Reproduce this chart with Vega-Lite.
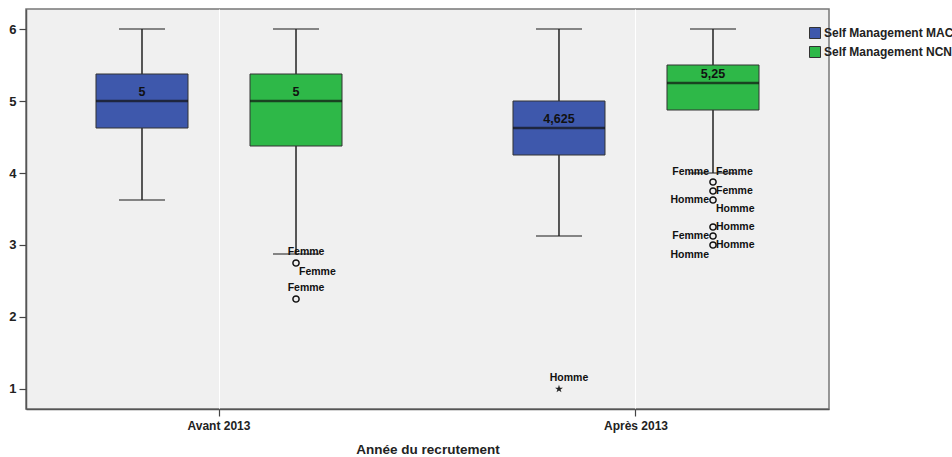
{
  "$schema": "https://vega.github.io/schema/vega-lite/v6.json",
  "width": 803,
  "height": 400,
  "autosize": {"type": "none"},
  "padding": {"left": 26, "top": 9, "right": 123, "bottom": 48},
  "background": "white",
  "config": {
    "view": {"stroke": "#777777", "strokeWidth": 1.5, "fill": "#F0F0F0"},
    "font": "Liberation Sans",
    "axis": {"labelFont": "Liberation Sans", "labelFontWeight": "bold", "labelColor": "#222222", "domainColor": "#555555", "domainWidth": 1.5, "tickColor": "#444444", "tickWidth": 1.2, "titleFont": "Liberation Sans", "titleFontWeight": "bold", "titleColor": "#222222"}
  },
  "datasets": {
    "boxes": [
      {"year": "Avant 2013", "group": "Self Management MAC", "lower": 3.625, "q1": 4.625, "median": 5, "q3": 5.375, "upper": 6, "medianLabel": "5"},
      {"year": "Avant 2013", "group": "Self Management NCN", "lower": 2.875, "q1": 4.375, "median": 5, "q3": 5.375, "upper": 6, "medianLabel": "5"},
      {"year": "Après 2013", "group": "Self Management MAC", "lower": 3.125, "q1": 4.25, "median": 4.625, "q3": 5, "upper": 6, "medianLabel": "4,625"},
      {"year": "Après 2013", "group": "Self Management NCN", "lower": 4, "q1": 4.875, "median": 5.25, "q3": 5.5, "upper": 6, "medianLabel": "5,25"}
    ],
    "outliers": [
      {"year": "Avant 2013", "group": "Self Management NCN", "value": 2.75, "kind": "outlier"},
      {"year": "Avant 2013", "group": "Self Management NCN", "value": 2.25, "kind": "outlier"},
      {"year": "Après 2013", "group": "Self Management MAC", "value": 1, "kind": "extreme"},
      {"year": "Après 2013", "group": "Self Management NCN", "value": 3.875, "kind": "outlier"},
      {"year": "Après 2013", "group": "Self Management NCN", "value": 3.75, "kind": "outlier"},
      {"year": "Après 2013", "group": "Self Management NCN", "value": 3.625, "kind": "outlier"},
      {"year": "Après 2013", "group": "Self Management NCN", "value": 3.25, "kind": "outlier"},
      {"year": "Après 2013", "group": "Self Management NCN", "value": 3.125, "kind": "outlier"},
      {"year": "Après 2013", "group": "Self Management NCN", "value": 3.0, "kind": "outlier"}
    ],
    "labels": [
      {"year": "Avant 2013", "group": "Self Management NCN", "value": 2.75, "label": "Femme", "pos": "above"},
      {"year": "Avant 2013", "group": "Self Management NCN", "value": 2.75, "label": "Femme", "pos": "rightbelow"},
      {"year": "Avant 2013", "group": "Self Management NCN", "value": 2.25, "label": "Femme", "pos": "above"},
      {"year": "Après 2013", "group": "Self Management MAC", "value": 1, "label": "Homme", "pos": "above"},
      {"year": "Après 2013", "group": "Self Management NCN", "value": 3.875, "label": "Femme", "pos": "leftabove"},
      {"year": "Après 2013", "group": "Self Management NCN", "value": 3.875, "label": "Femme", "pos": "rightabove"},
      {"year": "Après 2013", "group": "Self Management NCN", "value": 3.75, "label": "Femme", "pos": "right"},
      {"year": "Après 2013", "group": "Self Management NCN", "value": 3.625, "label": "Homme", "pos": "left"},
      {"year": "Après 2013", "group": "Self Management NCN", "value": 3.625, "label": "Homme", "pos": "rightbelow"},
      {"year": "Après 2013", "group": "Self Management NCN", "value": 3.25, "label": "Homme", "pos": "right"},
      {"year": "Après 2013", "group": "Self Management NCN", "value": 3.125, "label": "Femme", "pos": "left"},
      {"year": "Après 2013", "group": "Self Management NCN", "value": 3.0, "label": "Homme", "pos": "right"},
      {"year": "Après 2013", "group": "Self Management NCN", "value": 3.0, "label": "Homme", "pos": "leftbelow"}
    ]
  },
  "encoding": {
    "x": {
      "field": "year", "type": "nominal", "sort": ["Avant 2013", "Après 2013"],
      "scale": {"paddingOuter": 0, "paddingInner": 0.0743},
      "axis": {"title": "Année du recrutement", "labelAngle": 0, "labelFontSize": 12, "titleFontSize": 13.5, "tickSize": 7, "labelPadding": 4, "titlePadding": 11, "grid": true, "gridColor": "#FFFFFF", "gridWidth": 1}
    },
    "xOffset": {
      "field": "group", "type": "nominal",
      "scale": {"paddingInner": 0.4026, "paddingOuter": 0.4545}
    }
  },
  "layer": [
    {
      "data": {"name": "boxes"},
      "mark": {"type": "rule", "color": "#222222", "strokeWidth": 1.5},
      "encoding": {
        "y": {"field": "lower", "type": "quantitative", "scale": {"domain": [0.722, 6.278], "nice": false, "zero": false}, "axis": {"values": [1, 2, 3, 4, 5, 6], "format": "d", "title": null, "labelFontSize": 13, "tickSize": 7, "labelPadding": 3, "grid": false}},
        "y2": {"field": "upper"}
      }
    },
    {
      "data": {"name": "boxes"},
      "mark": {"type": "tick", "color": "#222222", "thickness": 1.5, "size": 46},
      "encoding": {"y": {"field": "upper", "type": "quantitative"}}
    },
    {
      "data": {"name": "boxes"},
      "mark": {"type": "tick", "color": "#222222", "thickness": 1.5, "size": 46},
      "encoding": {"y": {"field": "lower", "type": "quantitative"}}
    },
    {
      "data": {"name": "boxes"},
      "mark": {"type": "bar", "stroke": "#333333", "strokeWidth": 1, "opacity": 1},
      "encoding": {
        "y": {"field": "q1", "type": "quantitative"},
        "y2": {"field": "q3"},
        "color": {
          "field": "group", "type": "nominal",
          "scale": {"domain": ["Self Management MAC", "Self Management NCN"], "range": ["#3E58AC", "#2EB848"]},
          "legend": {"title": null, "orient": "none", "legendX": 783, "legendY": 18, "symbolType": "square", "symbolSize": 121, "symbolStrokeColor": "#333333", "symbolStrokeWidth": 1, "symbolOpacity": 1, "labelFont": "Liberation Sans", "labelFontWeight": "bold", "labelFontSize": 12, "labelColor": "#222222", "labelOffset": 3, "rowPadding": 3, "labelLimit": 200}
        }
      }
    },
    {
      "data": {"name": "boxes"},
      "mark": {"type": "tick", "color": "#111111", "thickness": 2.5, "size": 92},
      "encoding": {"y": {"field": "median", "type": "quantitative"}}
    },
    {
      "data": {"name": "boxes"},
      "mark": {"type": "text", "font": "Liberation Sans", "fontWeight": "bold", "fontSize": 12.5, "color": "#111111", "dy": -9, "baseline": "middle"},
      "encoding": {"y": {"field": "median", "type": "quantitative"}, "text": {"field": "medianLabel"}}
    },
    {
      "data": {"name": "outliers"},
      "transform": [{"filter": "datum.kind === 'outlier'"}],
      "mark": {"type": "point", "shape": "circle", "filled": false, "size": 38, "stroke": "#111111", "strokeWidth": 1.5, "opacity": 1},
      "encoding": {"y": {"field": "value", "type": "quantitative"}}
    },
    {
      "data": {"name": "outliers"},
      "transform": [{"filter": "datum.kind === 'extreme'"}],
      "mark": {"type": "point", "shape": "M0,-1L0.2245,-0.309L0.951,-0.309L0.363,0.118L0.588,0.809L0,0.382L-0.588,0.809L-0.363,0.118L-0.951,-0.309L-0.2245,-0.309Z", "filled": true, "size": 70, "color": "#222222", "opacity": 1},
      "encoding": {"y": {"field": "value", "type": "quantitative"}}
    },
    {
      "data": {"name": "labels"},
      "transform": [{"filter": "datum.pos === 'above'"}],
      "mark": {"type": "text", "font": "Liberation Sans", "fontWeight": "bold", "fontSize": 10.5, "color": "#111111", "align": "center", "baseline": "middle", "dx": 10, "dy": -11},
      "encoding": {"y": {"field": "value", "type": "quantitative"}, "text": {"field": "label"}}
    },
    {
      "data": {"name": "labels"},
      "transform": [{"filter": "datum.pos === 'right'"}],
      "mark": {"type": "text", "font": "Liberation Sans", "fontWeight": "bold", "fontSize": 10.5, "color": "#111111", "align": "left", "baseline": "middle", "dx": 3, "dy": 0},
      "encoding": {"y": {"field": "value", "type": "quantitative"}, "text": {"field": "label"}}
    },
    {
      "data": {"name": "labels"},
      "transform": [{"filter": "datum.pos === 'rightabove'"}],
      "mark": {"type": "text", "font": "Liberation Sans", "fontWeight": "bold", "fontSize": 10.5, "color": "#111111", "align": "left", "baseline": "middle", "dx": 3, "dy": -10},
      "encoding": {"y": {"field": "value", "type": "quantitative"}, "text": {"field": "label"}}
    },
    {
      "data": {"name": "labels"},
      "transform": [{"filter": "datum.pos === 'rightbelow'"}],
      "mark": {"type": "text", "font": "Liberation Sans", "fontWeight": "bold", "fontSize": 10.5, "color": "#111111", "align": "left", "baseline": "middle", "dx": 3, "dy": 9},
      "encoding": {"y": {"field": "value", "type": "quantitative"}, "text": {"field": "label"}}
    },
    {
      "data": {"name": "labels"},
      "transform": [{"filter": "datum.pos === 'left'"}],
      "mark": {"type": "text", "font": "Liberation Sans", "fontWeight": "bold", "fontSize": 10.5, "color": "#111111", "align": "right", "baseline": "middle", "dx": -4, "dy": 0},
      "encoding": {"y": {"field": "value", "type": "quantitative"}, "text": {"field": "label"}}
    },
    {
      "data": {"name": "labels"},
      "transform": [{"filter": "datum.pos === 'leftabove'"}],
      "mark": {"type": "text", "font": "Liberation Sans", "fontWeight": "bold", "fontSize": 10.5, "color": "#111111", "align": "right", "baseline": "middle", "dx": -4, "dy": -10},
      "encoding": {"y": {"field": "value", "type": "quantitative"}, "text": {"field": "label"}}
    },
    {
      "data": {"name": "labels"},
      "transform": [{"filter": "datum.pos === 'leftbelow'"}],
      "mark": {"type": "text", "font": "Liberation Sans", "fontWeight": "bold", "fontSize": 10.5, "color": "#111111", "align": "right", "baseline": "middle", "dx": -4, "dy": 10},
      "encoding": {"y": {"field": "value", "type": "quantitative"}, "text": {"field": "label"}}
    }
  ]
}
